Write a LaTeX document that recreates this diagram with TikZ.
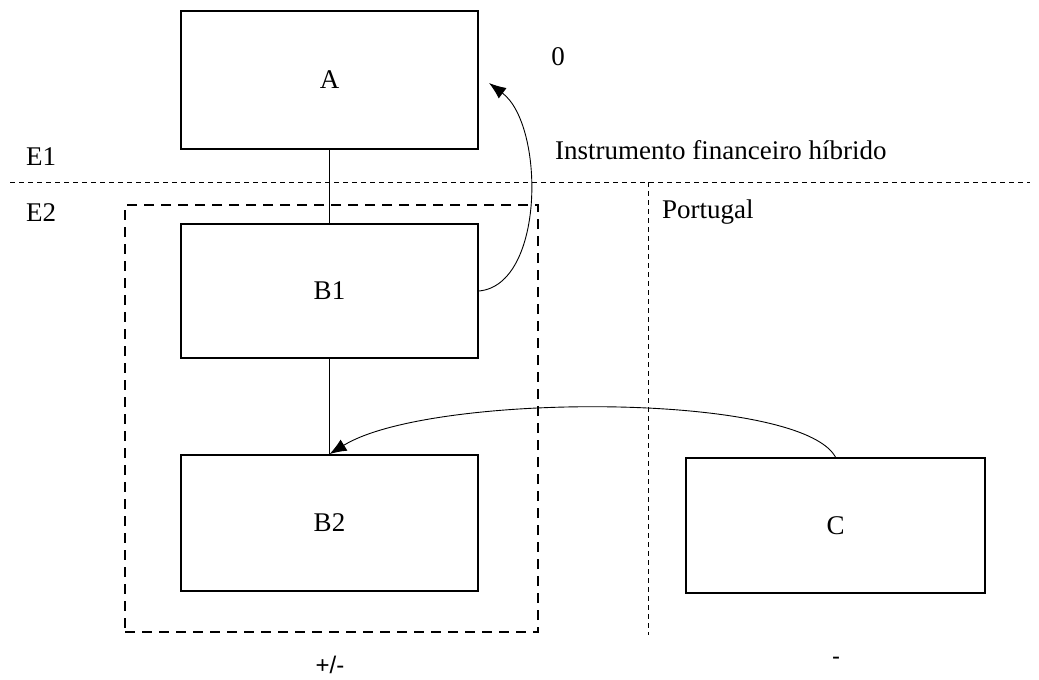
\documentclass[tikz,border=0pt]{standalone}
\usepackage{fontspec}
\setmainfont{Liberation Serif}
\newfontfamily\arialfont{Liberation Sans}
\usetikzlibrary{arrows.meta}
\begin{document}
\begin{tikzpicture}[x=1pt,y=-1pt,
  every node/.style={font=\fontsize{27}{31}\selectfont},
  entbox/.style={draw, line width=1.8pt, inner sep=0pt},
  lbl/.style={inner sep=0pt, anchor=west},
  thinline/.style={line width=0.9pt},
  sepline/.style={line width=0.9pt, dash pattern=on 5pt off 4pt},
  groupbox/.style={draw, line width=2.4pt, dash pattern=on 10pt off 7pt},
  arr/.style={line width=0.9pt, -{Latex[length=17pt,width=13pt]}}]
\useasboundingbox (0,0) rectangle (1039,680);
% boxes
\node[entbox, minimum width=297pt, minimum height=138pt] (A) at (329.5,80) {A};
\node[entbox, minimum width=297pt, minimum height=134pt] (B1) at (329.5,291) {B1};
\node[entbox, minimum width=297pt, minimum height=136pt] (B2) at (329.5,523) {B2};
\node[entbox, minimum width=299pt, minimum height=135pt] (C) at (835.5,525.5) {C};
% group
\node[groupbox, minimum width=413pt, minimum height=427pt, inner sep=0pt] (G) at (331.5,418.5) {};
% separators
\coordinate (h1) at (10,182);
\coordinate (h2) at (1030,182);
\coordinate (v1) at (648,182);
\coordinate (v2) at (648,635);
\draw[sepline] (h1) -- (h2);
\draw[sepline] (v1) -- (v2);
% labels
\node[inner sep=0pt] (zero) at (558,57) {0};
\node[lbl] (E1) at (26,157) {E1};
\node[lbl] (E2) at (26,213) {E2};
\node[lbl] (ifh) at (555,150) {Instrumento financeiro híbrido};
\node[lbl] (pt) at (662,212) {Portugal};
\node[inner sep=0pt, font=\arialfont\fontsize{24}{28}\selectfont] (pm) at (330,665) {+/-};
\node[inner sep=0pt, font=\arialfont\fontsize{24}{28}\selectfont] (mn) at (836,661) {-};
% connectors
\draw[thinline] (A.south) -- (B1.north);
\draw[thinline] (B1.south) -- (B2.north);
\coordinate (Atip) at (489,83);
\draw[arr] (B1.east) .. controls (545,285) and (545,125) .. (Atip);
\draw[arr] (C.north) .. controls (800,392) and (430,392) .. (B2.north);
\end{tikzpicture}
\end{document}
